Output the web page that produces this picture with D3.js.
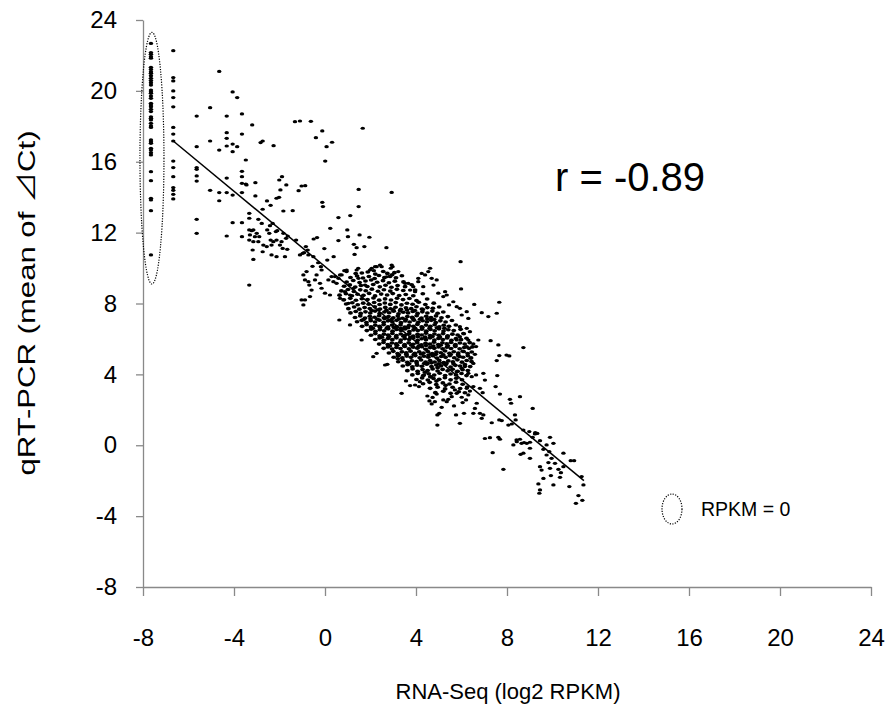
<!DOCTYPE html>
<html>
<head>
<meta charset="utf-8">
<script src="https://cdnjs.cloudflare.com/ajax/libs/d3/7.8.5/d3.min.js"></script>
<style>
body { margin: 0; background: #fff; }
text { font-family: "Liberation Sans", Arial, "Noto Sans CJK JP", sans-serif; }
</style>
</head>
<body>
<div id="chart"></div>
<script>
// tick values for both axes
var xTicks = [-8, -4, 0, 4, 8, 12, 16, 20, 24];
var yTicks = [-8, -4, 0, 4, 8, 12, 16, 20, 24];

// genes with RPKM = 0, drawn at one x position
var zeroX = -7.65;
var zeroY = [22.68, 22.16, 22.06, 21.93, 21.84, 21.33, 21.21, 21.08, 20.99, 20.86, 20.71, 20.58, 20.46, 20.33,
	20.05, 19.95, 19.86, 19.71, 19.58, 19.30, 19.20, 19.10, 18.96, 18.83, 18.54, 18.45, 18.36, 18.17, 18.02,
	17.94, 17.23, 17.13, 17.04, 16.76, 16.66, 16.51, 16.38, 15.44, 14.93, 13.94, 13.84, 13.24, 10.74];

// low expression genes [log2 RPKM, mean dCt]
var lowExpr = [
	[-6.67, 22.27], [-6.67, 20.75], [-6.67, 20.56], [-6.67, 20.0], [-6.67, 19.62], [-6.67, 19.1], [-6.67, 17.94],
	[-6.67, 17.56], [-6.67, 17.17], [-6.67, 16.04], [-6.67, 15.67], [-6.67, 15.16], [-6.67, 14.54], [-6.67, 14.39],
	[-6.67, 14.16], [-6.67, 13.9],
	[-5.64, 18.58], [-5.64, 16.85], [-5.64, 15.67], [-5.64, 15.57], [-5.64, 15.2], [-5.64, 14.91], [-5.64, 12.75], [-5.64, 11.96],
	[-5.05, 19.05], [-5.05, 17.17], [-5.05, 14.39],
	[-4.65, 21.1], [-4.65, 16.66], [-4.65, 14.26], [-4.65, 13.8],
	[-4.32, 18.58], [-4.32, 17.64], [-4.32, 17.32], [-4.32, 16.89], [-4.32, 15.08], [-4.32, 14.26], [-4.32, 11.81],
	[-4.06, 19.94], [-4.06, 17.0], [-4.06, 16.57], [-4.06, 14.12], [-4.06, 12.56],
	[-3.86, 19.62], [-3.86, 16.85],
	[-3.65, 18.7], [-3.65, 17.56], [-3.65, 15.46], [-3.65, 15.16], [-3.65, 14.78], [-3.65, 14.26], [-3.65, 12.56], [-3.65, 11.77],
	[-3.48, 16.1], [-3.48, 14.74], [-3.45, 14.69],
	[-3.33, 13.09], [-3.33, 12.81], [-3.33, 12.15], [-3.33, 11.58], [-3.33, 9.04]
];

var midExpr = [
	[-3.2, 18.08], [-1.32, 18.26], [-1.1, 18.3], [-0.62, 18.28], [-0.12, 17.74], [-0.4, 17.36], [1.66, 17.89],
	[0.07, 16.85], [0.31, 17.1], [0.01, 16.04], [-2.83, 17.08], [-2.74, 17.17], [-2.26, 16.91],
	[-3.06, 14.82], [-3.06, 14.07], [-2.01, 14.97], [-1.89, 15.16], [-1.7, 14.69], [-1.96, 14.41], [-1.03, 14.63],
	[-0.87, 14.65], [-1.16, 14.37], [-2.13, 13.94], [-2.02, 13.99], [-2.55, 13.79], [-2.39, 13.54], [-2.74, 13.32],
	[-1.83, 13.22], [-1.42, 13.24], [-0.12, 13.71], [-0.09, 13.47], [1.48, 14.44], [1.48, 13.47], [2.93, 14.27],
	[0.59, 12.85], [1.11, 12.96], [0.23, 12.24], [0.98, 12.15], [1.01, 11.77], [1.52, 11.87], [1.95, 11.74],
	[0.59, 11.55], [1.27, 11.34], [1.39, 11.15], [1.73, 11.21], [2.7, 11.15], [1.3, 10.77], [-0.03, 11.1],
	[0.38, 10.64], [-0.5, 11.64], [-0.35, 11.72], [-0.84, 11.21], [-0.76, 11.02], [-0.98, 10.83], [-1.27, 11.58],
	[-1.64, 11.81], [-1.83, 11.96], [-1.71, 11.68], [-1.91, 11.49], [-2.13, 11.58], [-2.27, 11.49], [-2.39, 11.58],
	[-2.45, 11.96], [-2.54, 12.15], [-2.42, 12.39], [-2.16, 12.06], [-2.1, 12.11], [-2.3, 12.52], [-2.78, 12.52],
	[-2.93, 12.75], [-3.15, 12.15], [-3.0, 11.96], [-2.89, 11.77], [-3.08, 11.77], [-3.22, 12.11], [-3.3, 11.87],
	[-3.15, 11.49], [-2.93, 11.49], [-2.71, 11.3], [-2.56, 11.21], [-2.35, 11.3], [-1.98, 11.3], [-1.86, 11.11],
	[-1.66, 11.06], [-2.74, 10.92], [-3.18, 11.02], [-2.35, 10.74], [-2.13, 10.64], [-1.76, 10.64], [-1.1, 10.74],
	[-0.92, 10.87], [-0.73, 10.74], [-0.51, 10.64], [-3.15, 10.49],
	[0.95, 9.89], [1.47, 9.42], [0.73, 9.61], [0.59, 9.42], [0.51, 9.14], [0.88, 8.67], [1.1, 8.48], [1.25, 8.85],
	[1.76, 9.04], [2.2, 10.08], [2.71, 9.51], [3.52, 9.14], [4.1, 9.42], [-0.3, 10.3], [-0.55, 10.1], [0.1, 10.45]
];

// dense core of the cloud
var core = [
	[1.62, 9.72], [1.88, 9.78], [2.21, 9.66], [2.56, 9.81], [2.74, 9.7], [3.05, 9.74], [1.35, 9.69], [2.95, 9.62],
	[1.12, 9.47], [1.41, 9.55], [1.67, 9.44], [1.93, 9.52], [2.18, 9.41], [2.37, 9.58], [2.61, 9.46], [2.86, 9.53], [3.12, 9.45], [3.38, 9.57],
	[0.95, 9.21], [1.24, 9.3], [1.52, 9.18], [1.78, 9.27], [2.03, 9.33], [2.29, 9.2], [2.55, 9.29], [2.81, 9.17], [3.07, 9.26], [3.45, 9.22],
	[0.84, 8.97], [1.09, 9.05], [1.33, 8.93], [1.58, 9.02], [1.86, 8.96], [2.12, 9.07], [2.41, 8.94], [2.66, 9.03], [2.92, 8.92], [3.19, 9.01], [3.52, 8.95], [3.81, 9.06],
	[0.72, 8.71], [1.01, 8.79], [1.27, 8.68], [1.55, 8.77], [1.79, 8.72], [2.06, 8.81], [2.33, 8.69], [2.59, 8.78], [2.87, 8.7], [3.16, 8.8], [3.44, 8.73], [3.96, 8.76],
	[0.64, 8.47], [0.92, 8.55], [1.18, 8.44], [1.43, 8.52], [1.69, 8.46], [1.94, 8.57], [2.2, 8.43], [2.47, 8.53], [2.73, 8.48], [2.98, 8.56], [3.26, 8.45], [3.55, 8.51], [3.88, 8.44], [4.3, 8.55],
	[0.83, 8.21], [1.11, 8.29], [1.36, 8.18], [1.62, 8.27], [1.87, 8.22], [2.13, 8.31], [2.38, 8.19], [2.64, 8.26], [2.9, 8.2], [3.17, 8.3], [3.43, 8.22], [3.71, 8.28], [4.02, 8.17], [4.49, 8.25],
	[0.93, 7.97], [1.2, 8.04], [1.44, 7.93], [1.68, 8.02], [1.92, 7.96], [2.16, 8.06], [2.4, 7.94], [2.63, 8.03], [2.87, 7.95], [3.11, 8.05], [3.36, 7.92], [3.6, 8.01], [3.85, 7.96], [4.12, 8.07], [4.41, 7.94], [4.78, 8.02],
	[1.03, 7.71], [1.28, 7.8], [1.51, 7.68], [1.74, 7.77], [1.97, 7.72], [2.19, 7.81], [2.42, 7.69], [2.65, 7.78], [2.88, 7.7], [3.1, 7.79], [3.33, 7.67], [3.56, 7.76], [3.79, 7.71], [4.02, 7.82], [4.26, 7.69], [4.5, 7.77], [4.74, 7.73], [5.02, 7.8],
	[1.12, 7.47], [1.35, 7.55], [1.57, 7.44], [1.78, 7.53], [1.99, 7.46], [2.2, 7.57], [2.4, 7.43], [2.61, 7.52], [2.82, 7.48], [3.02, 7.56], [3.23, 7.42], [3.44, 7.51], [3.65, 7.47], [3.86, 7.55], [4.07, 7.44], [4.28, 7.53], [4.5, 7.46], [4.72, 7.57], [4.95, 7.45], [5.2, 7.52],
	[1.32, 7.21], [1.55, 7.3], [1.76, 7.18], [1.97, 7.28], [2.18, 7.22], [2.38, 7.31], [2.59, 7.19], [2.79, 7.27], [3.0, 7.2], [3.2, 7.29], [3.41, 7.17], [3.62, 7.26], [3.83, 7.22], [4.03, 7.31], [4.24, 7.18], [4.45, 7.28], [4.66, 7.21], [4.88, 7.3], [5.12, 7.19], [5.4, 7.26],
	[1.41, 6.97], [1.62, 7.05], [1.82, 6.93], [2.01, 7.03], [2.2, 6.96], [2.39, 7.06], [2.58, 6.94], [2.77, 7.02], [2.96, 6.97], [3.15, 7.05], [3.34, 6.92], [3.53, 7.01], [3.72, 6.96], [3.91, 7.06], [4.1, 6.94], [4.29, 7.03], [4.48, 6.97], [4.67, 7.05], [4.87, 6.93], [5.07, 7.02], [5.3, 6.96], [5.58, 7.04],
	[1.63, 6.71], [1.83, 6.8], [2.02, 6.68], [2.21, 6.77], [2.4, 6.72], [2.58, 6.81], [2.77, 6.69], [2.95, 6.78], [3.14, 6.7], [3.32, 6.79], [3.51, 6.67], [3.69, 6.76], [3.88, 6.71], [4.06, 6.82], [4.25, 6.69], [4.44, 6.78], [4.63, 6.72], [4.82, 6.8], [5.02, 6.68], [5.22, 6.77], [5.45, 6.71], [5.75, 6.79],
	[1.84, 6.47], [2.03, 6.55], [2.22, 6.43], [2.41, 6.52], [2.6, 6.46], [2.78, 6.57], [2.97, 6.44], [3.15, 6.53], [3.34, 6.48], [3.52, 6.56], [3.71, 6.42], [3.89, 6.51], [4.08, 6.47], [4.26, 6.55], [4.45, 6.44], [4.63, 6.53], [4.82, 6.46], [5.01, 6.57], [5.21, 6.45], [5.42, 6.52], [5.66, 6.47], [5.96, 6.54],
	[2.02, 6.21], [2.21, 6.3], [2.4, 6.18], [2.59, 6.27], [2.77, 6.22], [2.96, 6.31], [3.14, 6.19], [3.33, 6.28], [3.51, 6.2], [3.7, 6.29], [3.88, 6.17], [4.07, 6.26], [4.25, 6.22], [4.44, 6.32], [4.62, 6.19], [4.81, 6.28], [5.0, 6.21], [5.19, 6.3], [5.39, 6.18], [5.6, 6.27], [5.83, 6.22], [6.1, 6.29],
	[2.21, 5.97], [2.4, 6.05], [2.59, 5.93], [2.77, 6.03], [2.96, 5.96], [3.14, 6.06], [3.33, 5.94], [3.51, 6.02], [3.7, 5.97], [3.88, 6.05], [4.07, 5.92], [4.25, 6.01], [4.44, 5.96], [4.62, 6.06], [4.81, 5.94], [4.99, 6.03], [5.18, 5.97], [5.37, 6.05], [5.56, 5.93], [5.76, 6.02], [5.98, 5.96], [6.22, 6.04],
	[2.38, 5.71], [2.57, 5.8], [2.76, 5.68], [2.94, 5.77], [3.13, 5.72], [3.31, 5.81], [3.5, 5.69], [3.68, 5.78], [3.87, 5.7], [4.05, 5.79], [4.24, 5.67], [4.42, 5.76], [4.61, 5.71], [4.79, 5.82], [4.98, 5.69], [5.16, 5.78], [5.35, 5.72], [5.54, 5.8], [5.73, 5.68], [5.93, 5.77], [6.14, 5.71], [6.36, 5.79],
	[2.58, 5.47], [2.77, 5.55], [2.95, 5.43], [3.14, 5.52], [3.32, 5.46], [3.51, 5.57], [3.69, 5.44], [3.88, 5.53], [4.06, 5.48], [4.25, 5.56], [4.43, 5.42], [4.62, 5.51], [4.8, 5.47], [4.99, 5.55], [5.17, 5.44], [5.36, 5.53], [5.54, 5.46], [5.73, 5.57], [5.92, 5.45], [6.12, 5.52], [6.33, 5.47], [6.48, 5.55],
	[2.81, 5.21], [3.0, 5.3], [3.19, 5.18], [3.38, 5.27], [3.57, 5.22], [3.76, 5.31], [3.95, 5.19], [4.14, 5.28], [4.33, 5.2], [4.52, 5.29], [4.71, 5.17], [4.9, 5.26], [5.09, 5.22], [5.28, 5.32], [5.47, 5.19], [5.66, 5.28], [5.86, 5.21], [6.06, 5.3], [6.27, 5.18], [6.45, 5.26],
	[3.02, 4.97], [3.21, 5.05], [3.4, 4.93], [3.59, 5.03], [3.78, 4.96], [3.97, 5.06], [4.16, 4.94], [4.35, 5.02], [4.54, 4.97], [4.73, 5.05], [4.92, 4.92], [5.11, 5.01], [5.3, 4.96], [5.49, 5.06], [5.68, 4.94], [5.87, 5.03], [6.07, 4.97], [6.28, 5.05], [6.42, 4.93], [3.2, 4.88],
	[3.22, 4.71], [3.42, 4.8], [3.62, 4.68], [3.82, 4.77], [4.02, 4.72], [4.22, 4.81], [4.42, 4.69], [4.62, 4.78], [4.82, 4.7], [5.02, 4.79], [5.22, 4.67], [5.42, 4.76], [5.62, 4.71], [5.82, 4.82], [6.02, 4.69], [6.23, 4.78], [6.44, 4.72], [4.5, 4.62],
	[3.42, 4.47], [3.63, 4.55], [3.84, 4.43], [4.05, 4.52], [4.26, 4.46], [4.47, 4.57], [4.68, 4.44], [4.89, 4.53], [5.1, 4.48], [5.31, 4.56], [5.52, 4.42], [5.73, 4.51], [5.94, 4.47], [6.15, 4.55], [6.38, 4.44], [4.95, 4.38],
	[3.62, 4.21], [3.85, 4.3], [4.07, 4.18], [4.29, 4.27], [4.51, 4.22], [4.73, 4.31], [4.95, 4.19], [5.17, 4.28], [5.39, 4.2], [5.61, 4.29], [5.83, 4.17], [6.05, 4.26], [6.28, 4.22], [4.4, 4.12],
	[3.84, 3.97], [4.08, 4.05], [4.32, 3.93], [4.56, 4.03], [4.8, 3.96], [5.04, 4.06], [5.28, 3.94], [5.52, 4.02], [5.76, 3.97], [6.0, 4.05], [6.22, 3.93], [4.65, 3.86],
	[4.02, 3.71], [4.27, 3.8], [4.52, 3.68], [4.77, 3.77], [5.02, 3.72], [5.27, 3.81], [5.52, 3.69], [5.77, 3.78], [6.02, 3.7], [4.9, 3.62],
	[4.31, 3.47], [4.6, 3.55], [4.89, 3.43], [5.18, 3.52], [5.47, 3.46], [5.76, 3.56], [6.05, 3.44], [5.3, 3.38],
	[4.62, 3.21], [4.95, 3.28], [5.28, 3.18], [5.61, 3.27], [5.94, 3.2], [6.25, 3.29],
	[4.85, 2.97], [5.2, 3.05], [5.52, 2.93], [5.88, 3.02], [6.15, 2.96]
];

// extra points in the blackest part of the core
var coreFill = [
	[2.05, 7.6], [2.35, 7.65], [2.7, 7.61], [3.0, 7.64], [3.3, 7.59], [3.6, 7.63], [3.95, 7.6], [4.3, 7.66],
	[1.7, 7.1], [2.0, 7.14], [2.3, 7.11], [2.62, 7.15], [2.92, 7.09], [3.25, 7.13], [3.55, 7.1], [3.86, 7.15], [4.18, 7.11], [4.5, 7.13], [4.8, 7.09],
	[2.1, 6.6], [2.42, 6.64], [2.72, 6.61], [3.03, 6.65], [3.35, 6.59], [3.65, 6.63], [3.96, 6.6], [4.28, 6.64], [4.6, 6.61], [4.92, 6.63], [5.25, 6.6],
	[2.5, 6.1], [2.82, 6.14], [3.12, 6.11], [3.45, 6.15], [3.76, 6.09], [4.08, 6.13], [4.4, 6.1], [4.72, 6.14], [5.05, 6.11], [5.38, 6.13],
	[2.85, 5.6], [3.17, 5.64], [3.48, 5.61], [3.8, 5.65], [4.12, 5.59], [4.44, 5.63], [4.76, 5.6], [5.08, 5.64], [5.4, 5.61], [5.72, 5.63],
	[3.25, 5.1], [3.58, 5.14], [3.9, 5.11], [4.22, 5.15], [4.55, 5.09], [4.87, 5.13], [5.2, 5.1], [5.52, 5.14], [5.85, 5.11],
	[3.7, 4.6], [4.03, 4.64], [4.36, 4.61], [4.68, 4.65], [5.0, 4.59], [5.33, 4.63], [5.65, 4.6]
];

// scattered points around the core and the high expression tail
var highExpr = [
	[5.96, 10.36], [5.98, 8.82], [7.66, 8.07], [6.56, 7.95], [6.89, 7.48], [7.18, 7.26], [7.55, 7.45], [8.72, 5.51],
	[7.28, 5.9], [7.62, 5.66], [7.98, 5.09], [8.1, 5.04], [7.66, 5.06], [7.55, 4.78], [7.57, 3.93], [6.96, 4.06],
	[7.03, 3.68], [7.5, 3.31], [7.69, 2.89], [8.13, 2.59], [8.18, 2.37], [8.57, 2.74], [8.35, 1.71], [8.38, 1.43],
	[9.13, 2.08], [8.72, 0.86], [8.98, 0.77], [9.24, 0.71], [9.33, 0.67], [8.42, 0.3], [8.64, 0.11], [9.01, -0.17],
	[7.03, 0.38], [7.25, 0.43], [7.62, 0.45], [7.69, 0.34], [8.28, 0.02], [9.45, 0.26], [9.74, 0.02], [8.06, 1.14],
	[8.21, 1.2], [7.66, 1.43], [7.77, 1.39], [7.33, 1.27], [6.89, 1.52], [6.96, 1.71], [6.81, 1.8], [6.59, 2.08],
	[6.52, 1.8], [6.67, 2.37], [6.05, 2.41], [6.2, 2.56], [6.01, 2.71], [6.3, 2.84], [5.93, 1.24], [6.11, 1.8],
	[5.76, 1.71], [5.67, 2.22], [4.94, 1.14], [4.94, 1.71], [5.02, 1.8], [5.13, 2.14], [5.35, 2.46], [5.42, 2.59],
	[5.2, 2.56], [4.69, 2.33], [4.83, 2.46], [4.59, 2.5], [4.5, 2.78], [4.73, 2.7], [4.91, 2.89], [3.37, 2.93],
	[3.74, 3.37], [3.96, 3.4], [4.13, 3.31], [3.56, 3.63], [4.17, 3.59], [4.35, 3.97], [4.62, 3.87], [5.57, 2.74],
	[5.71, 3.12], [5.79, 2.93], [6.23, 3.21], [6.37, 3.06], [6.52, 3.31], [6.81, 3.21], [6.93, 2.97], [6.45, 3.87],
	[6.64, 3.97], [6.3, 4.06], [5.79, 4.15], [6.01, 4.34], [6.15, 4.44], [6.52, 4.62], [6.4, 4.91], [6.59, 5.13],
	[6.23, 5.57], [6.52, 5.72], [6.64, 5.57], [6.11, 5.28], [5.93, 5.0], [5.79, 5.94], [5.93, 6.13], [6.08, 6.32],
	[6.3, 5.94], [6.74, 5.94], [6.23, 6.6], [6.37, 6.41], [5.93, 6.69], [6.01, 7.35], [6.3, 7.16], [6.23, 7.54],
	[5.93, 7.73], [5.79, 7.82], [5.45, 7.92], [5.64, 8.1], [5.2, 8.39], [5.35, 8.48], [4.98, 8.58], [5.28, 8.67],
	[4.91, 9.33], [4.69, 9.42], [4.77, 9.04], [4.54, 9.8], [4.62, 9.99], [4.4, 9.61], [4.25, 9.7], [4.1, 9.23],
	[4.32, 8.95], [3.88, 8.95], [3.74, 8.76], [3.96, 8.67], [3.66, 9.14], [2.93, 10.17], [2.97, 10.08], [2.89, 9.99],
	[2.42, 10.17], [2.49, 10.08], [2.27, 10.08], [2.05, 9.99], [1.98, 9.89], [2.15, 9.85], [3.22, 9.8], [1.46, 9.99],
	[1.39, 9.89], [0.95, 9.8], [0.85, 9.85], [0.66, 9.61], [0.44, 9.52], [0.29, 9.52], [0.15, 9.33], [0.37, 9.23],
	[-0.18, 10.08], [-0.15, 9.89], [-0.37, 9.61], [-0.44, 9.33], [-0.81, 9.8], [-0.95, 9.61], [-0.88, 9.33],
	[-0.73, 9.23], [-0.69, 9.04], [-0.59, 8.76], [-0.66, 8.39], [-0.88, 8.2], [-0.95, 7.92], [-1.03, 8.2],
	[-0.15, 8.86], [0.0, 8.58], [0.22, 8.48], [-0.22, 9.14], [0.66, 8.29], [0.81, 8.2], [1.03, 8.01], [0.63, 7.07],
	[1.1, 6.79], [1.61, 5.94], [2.64, 4.53], [2.74, 4.57], [2.12, 5.0], [2.27, 5.19],
	[10.48, -0.45], [10.8, -0.87], [10.95, -0.87], [11.28, -1.77], [11.36, -2.24], [11.14, -2.84], [11.31, -3.11],
	[11.03, -3.28], [10.48, -1.21], [10.37, -1.55], [10.26, -1.36], [10.33, -1.81], [10.74, -2.33], [10.04, -2.24],
	[9.93, -1.71], [9.89, -1.3], [9.82, -0.98], [9.96, -0.74], [9.74, -0.55], [9.86, -0.36], [10.04, 0.11],
	[9.6, -0.23], [9.45, -1.21], [9.52, -1.4], [9.38, -2.18], [9.42, -2.71], [9.45, -2.52], [9.6, -1.87],
	[10.11, -1.02], [9.89, 0.45], [9.23, 0.64], [9.13, 0.45], [8.87, 0.11], [8.72, -0.45], [8.6, -0.51],
	[9.01, -0.74], [9.01, 0.17], [7.84, -1.36], [7.37, -0.42], [8.43, 0.2], [8.57, 0.34], [8.75, 0.15]
];

// least squares line (end points)
var fitLine = [[-6.67, 17.17], [11.38, -2.0]];
var rLabel = "r = -0.89";
var legendLabel = "RPKM = 0";

var width = 893,
	height = 711,
	axisColor = "#898989";

var x = d3.scaleLinear().domain([-8, 24]).range([143, 871]);
var y = d3.scaleLinear().domain([-8, 24]).range([587, 20]);

var svg = d3.select("#chart")
	.append("svg")
	.attr("width", width)
	.attr("height", height)
	.style("background", "#fff");

// axes, labels with a plain hyphen minus
var plain = function(d) { return String(d); };

var xAxis = svg.append("g")
	.attr("transform", "translate(0," + y(-8) + ")")
	.call(d3.axisBottom(x).tickValues(xTicks).tickFormat(plain).tickSize(9).tickPadding(33).tickSizeOuter(0));

var yAxis = svg.append("g")
	.attr("transform", "translate(" + x(-8) + ",0)")
	.call(d3.axisLeft(y).tickValues(yTicks).tickFormat(plain).tickSize(7).tickPadding(19).tickSizeOuter(0));

[xAxis, yAxis].forEach(function(a) {
	a.select(".domain").attr("stroke", axisColor).attr("stroke-width", 1.3);
	a.selectAll(".tick line").attr("stroke", axisColor).attr("stroke-width", 1.3);
	a.selectAll(".tick text")
		.attr("fill", "#000")
		.style("font-size", "24px")
		.style("font-family", "'Liberation Sans', Arial, sans-serif");
});

// axis titles
svg.append("text")
	.attr("x", 508)
	.attr("y", 699)
	.attr("text-anchor", "middle")
	.style("font-size", "22px")
	.text("RNA-Seq (log2 RPKM)");

svg.append("text")
	.attr("transform", "translate(35,303) rotate(-90)")
	.attr("text-anchor", "middle")
	.attr("textLength", 345)
	.attr("lengthAdjust", "spacingAndGlyphs")
	.style("font-size", "24px")
	.text("qRT-PCR (mean of ⊿Ct)");

// points: the sparse ones, then the core with slightly fuller dots
var sparse = lowExpr.concat(midExpr, highExpr)
	.concat(zeroY.map(function(d) { return [zeroX, d]; }));
var dense = core.concat(coreFill);

function drawDots(data, rx, ry) {
	svg.append("g")
		.selectAll("ellipse")
		.data(data)
		.enter().append("ellipse")
		.attr("cx", function(d) { return x(d[0]); })
		.attr("cy", function(d) { return y(d[1]); })
		.attr("rx", rx)
		.attr("ry", ry)
		.attr("fill", "#000");
}
drawDots(sparse, 2.2, 1.6);
drawDots(dense, 2.45, 1.8);

// regression line
svg.append("path")
	.datum(fitLine)
	.attr("fill", "none")
	.attr("stroke", "#000")
	.attr("stroke-width", 1.5)
	.attr("d", d3.line()
		.x(function(d) { return x(d[0]); })
		.y(function(d) { return y(d[1]); }));

// dotted ring round the RPKM = 0 genes
svg.append("ellipse")
	.attr("cx", x(zeroX) + 1)
	.attr("cy", (y(23.3) + y(9.1)) / 2)
	.attr("rx", 12)
	.attr("ry", (y(9.1) - y(23.3)) / 2)
	.attr("fill", "none")
	.attr("stroke", "#000")
	.attr("stroke-width", 1.2)
	.attr("stroke-dasharray", "1.2,1.4");

svg.append("text")
	.attr("x", 555)
	.attr("y", 191)
	.style("font-size", "40px")
	.text(rLabel);

// legend
svg.append("ellipse")
	.attr("cx", 672)
	.attr("cy", 509)
	.attr("rx", 10)
	.attr("ry", 15)
	.attr("fill", "none")
	.attr("stroke", "#000")
	.attr("stroke-width", 1.2)
	.attr("stroke-dasharray", "1.2,1.4");

svg.append("text")
	.attr("x", 701)
	.attr("y", 516)
	.style("font-size", "19.5px")
	.text(legendLabel);
</script>
</body>
</html>
